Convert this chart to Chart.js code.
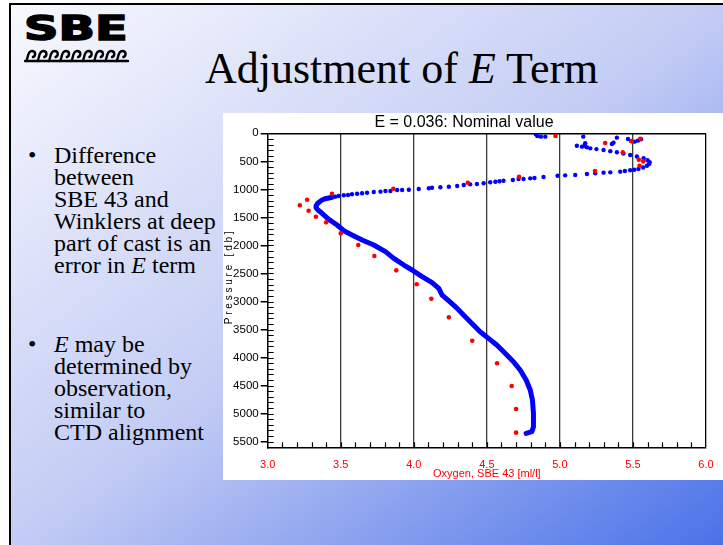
<!DOCTYPE html>
<html>
<head>
<meta charset="utf-8">
<title>Adjustment of E Term</title>
<script src="https://cdn.jsdelivr.net/npm/chart.js@4.4.1/dist/chart.umd.min.js"></script>
<style>
  html, body { margin: 0; padding: 0; width: 723px; height: 545px; overflow: hidden; background: #fff; }
  #slide {
    position: absolute; left: 9px; top: 3px; width: 714px; height: 542px;
    box-sizing: border-box; border-left: 2px solid #000; border-top: 2px solid #000;
    background: linear-gradient(to bottom right, #f8f9fe 0%, #c3ccf4 50%, #4a72e8 100%);
  }
  #logo-text {
    position: absolute; left: 24px; top: 12px; margin: 0;
    font: bold 33px/1 "DejaVu Sans", sans-serif; color: #000;
    -webkit-text-stroke: 1.5px #000;
    transform: scaleX(1.45); transform-origin: left top;
  }
  #logo-waves { position: absolute; left: 24px; top: 47px; }
  #heading {
    position: absolute; left: 205px; top: 47px; margin: 0; white-space: nowrap;
    font: 44px/1 "Liberation Serif", "Times New Roman", serif; color: #000; font-weight: normal;
  }
  .bullets {
    position: absolute; left: 54px; margin: 0; padding: 0; list-style: none;
    font: 24px/21.9px "Liberation Serif", "Times New Roman", serif; color: #000;
  }
  .bullets li { position: relative; }
  .bullets li::before { content: "\2022"; position: absolute; left: -26px; top: 0; }
  #plot-card { position: absolute; left: 223px; top: 113px; width: 500px; height: 367px; background: #fff; }
  #chart { position: absolute; left: 222px; top: 113px; }
</style>
</head>
<body>
<div id="slide"></div>

<div id="logo-text">SBE</div>
<svg id="logo-waves" width="106" height="17" viewBox="0 0 106 17">
  <g fill="none" stroke="#000" stroke-width="2.4" stroke-linecap="round">
    <path d="M1 14 H104"/>
    <path d="M2 14 C4 13 3 4 8 4 C12 4 12 9 9 10"/>
    <path d="M13.3 14 C15.3 13 14.3 4 19.3 4 C23.3 4 23.3 9 20.3 10"/>
    <path d="M24.6 14 C26.6 13 25.6 4 30.6 4 C34.6 4 34.6 9 31.6 10"/>
    <path d="M35.9 14 C37.9 13 36.9 4 41.9 4 C45.9 4 45.9 9 42.9 10"/>
    <path d="M47.2 14 C49.2 13 48.2 4 53.2 4 C57.2 4 57.2 9 54.2 10"/>
    <path d="M58.5 14 C60.5 13 59.5 4 64.5 4 C68.5 4 68.5 9 65.5 10"/>
    <path d="M69.8 14 C71.8 13 70.8 4 75.8 4 C79.8 4 79.8 9 76.8 10"/>
    <path d="M81.1 14 C83.1 13 82.1 4 87.1 4 C91.1 4 91.1 9 88.1 10"/>
    <path d="M92.4 14 C94.4 13 93.4 4 98.4 4 C102.4 4 102.4 9 99.4 10"/>
  </g>
</svg>

<h1 id="heading">Adjustment of <i>E</i> Term</h1>

<ul class="bullets" style="top:145px">
  <li>Difference<br>between<br>SBE 43 and<br>Winklers at deep<br>part of cast is an<br>error in <i>E</i> term</li>
</ul>
<ul class="bullets" style="top:334px">
  <li><i>E</i> may be<br>determined by<br>observation,<br>similar to<br>CTD alignment</li>
</ul>

<div id="plot-card"></div>
<canvas id="chart" width="529" height="366"></canvas>

<script>
// Axis ticks
const oxygenTicks = [3.0, 3.5, 4.0, 4.5, 5.0, 5.5, 6.0];
const pressureTicks = [0, 500, 1000, 1500, 2000, 2500, 3000, 3500, 4000, 4500, 5000, 5500];

// Winkler bottle samples: oxygen [ml/l] and pressure [db]
const winklerOxygen = [4.97, 5.55, 5.49, 5.31, 5.43, 5.54, 5.57, 5.545, 5.24, 4.72, 4.37, 3.86, 3.44, 3.27,
  3.22, 3.28, 3.33, 3.40, 3.50, 3.62, 3.73, 3.88, 4.02, 4.12, 4.24, 4.40, 4.57, 4.67, 4.70, 4.70];
const winklerPressure = [48, 96, 143, 173, 339, 470, 500, 578, 672, 774, 881, 988, 1077, 1184,
  1284, 1380, 1487, 1588, 1784, 1992, 2188, 2444, 2693, 2950, 3282, 3699, 4102, 4507, 4917, 5339];

// SBE 43 profile, upper water column (sparse scans)
const ctdUpperOxygen = [4.835, 4.845, 4.87, 4.90, 5.16, 5.39, 5.367, 5.356, 5.466, 5.488, 5.511, 5.534, 5.555,
  5.116, 5.173, 5.168, 5.151, 5.185,
  5.208, 5.25, 5.299, 5.345, 5.39, 5.435, 5.481, 5.527, 5.573, 5.60, 5.614, 5.61, 5.596, 5.57, 5.538,
  5.51, 5.481, 5.445, 5.413, 5.345, 5.299, 5.242, 5.185, 5.105, 5.036, 4.984, 4.888, 4.826, 4.797,
  4.751, 4.717, 4.678, 4.614, 4.586, 4.558, 4.523, 4.478, 4.432, 4.386, 4.342, 4.297, 4.24, 4.182,
  4.125, 4.103, 4.034, 3.966, 3.92, 3.886, 3.84, 3.806, 3.772, 3.726, 3.68, 3.646, 3.612, 3.577,
  3.55, 3.521, 3.486, 3.463];
const ctdUpperPressure = [18, 48, 60, 60, 60, 78, 167, 191, 101, 137, 149, 131, 107,
  221, 178, 226, 238, 250,
  268, 282, 298, 318, 339, 362, 387, 415, 446, 480, 517, 550, 578, 610, 637,
  650, 660, 672, 684, 696, 702, 714, 726, 744, 750, 756, 780, 797, 803,
  815, 815, 833, 845, 856, 863, 874, 892, 904, 910, 922, 940, 952, 963,
  970, 981, 993, 1006, 1011, 1011, 1029, 1029, 1041, 1047, 1059, 1070, 1077, 1088,
  1100, 1106, 1118, 1130];

// SBE 43 profile, deep water column (dense scans)
const ctdDeepOxygen = [3.441, 3.418, 3.395, 3.372, 3.356, 3.342, 3.333, 3.331, 3.344, 3.372, 3.418, 3.475,
  3.521, 3.577, 3.646, 3.726, 3.806, 3.863, 3.932, 3.988, 4.057, 4.125, 4.171, 4.194, 4.24, 4.297,
  4.34, 4.386, 4.454, 4.511, 4.568, 4.625, 4.682, 4.728, 4.769, 4.797, 4.812, 4.819, 4.819, 4.808, 4.769];
const ctdDeepPressure = [1141, 1154, 1166, 1189, 1220, 1248, 1291, 1327, 1368, 1427, 1534, 1635,
  1737, 1814, 1903, 1992, 2111, 2230, 2349, 2438, 2557, 2664, 2765, 2884, 2990, 3122,
  3240, 3360, 3538, 3657, 3776, 3924, 4074, 4222, 4400, 4579, 4757, 4994, 5232, 5322, 5351];

const toPoints = (xs, ys) => xs.map((x, i) => ({ x: x, y: ys[i] }));

const FONT = "'Liberation Sans', Arial, sans-serif";

// Inner minor tick marks along the bottom and left axes
const minorTicks = {
  id: 'minorTicks',
  afterDraw(chart) {
    const { ctx, chartArea, scales } = chart;
    const xs = scales.x, ys = scales.y;
    ctx.save();
    ctx.strokeStyle = '#000';
    ctx.lineWidth = 1.2;
    ctx.beginPath();
    for (let i = 1; i < 30; i++) {
      const px = Math.round(xs.getPixelForValue(3 + i * 0.1)) + 0.5;
      ctx.moveTo(px, chartArea.bottom);
      ctx.lineTo(px, chartArea.bottom - 5);
    }
    for (let i = 1; i < 56; i++) {
      const py = Math.round(ys.getPixelForValue(i * 100)) + 0.5;
      ctx.moveTo(chartArea.left, py);
      ctx.lineTo(chartArea.left + 6, py);
    }
    ctx.stroke();
    ctx.restore();
  }
};

new Chart(document.getElementById('chart'), {
  type: 'scatter',
  data: {
    datasets: [
      {
        label: 'Winkler',
        data: toPoints(winklerOxygen, winklerPressure),
        backgroundColor: '#ff0000',
        borderWidth: 0,
        pointRadius: 2.3
      },
      {
        label: 'SBE 43 upper',
        data: toPoints(ctdUpperOxygen, ctdUpperPressure),
        backgroundColor: '#0000ff',
        borderWidth: 0,
        pointRadius: 2.2
      },
      {
        label: 'SBE 43 deep',
        data: toPoints(ctdDeepOxygen, ctdDeepPressure),
        showLine: true,
        borderColor: '#0000ff',
        borderWidth: 5,
        borderCapStyle: 'round',
        borderJoinStyle: 'round',
        pointRadius: 0,
        tension: 0
      }
    ]
  },
  options: {
    responsive: false,
    animation: false,
    devicePixelRatio: 1,
    layout: { padding: { left: 0, right: 45, top: 0, bottom: 0 } },
    plugins: {
      legend: { display: false },
      tooltip: { enabled: false },
      title: {
        display: true,
        text: 'E = 0.036: Nominal value',
        color: '#000',
        font: { family: FONT, size: 16, weight: 'normal', lineHeight: 1.2 },
        padding: { top: 0, bottom: 1.1 }
      }
    },
    scales: {
      x: {
        type: 'linear',
        min: 3, max: 6,
        afterBuildTicks: s => { s.ticks = oxygenTicks.map(v => ({ value: v })); },
        afterFit: s => { s.height = 31.7; },
        ticks: {
          color: '#ff0000',
          padding: 11,
          maxRotation: 0,
          font: { family: FONT, size: 11 },
          callback: v => Number(v).toFixed(1)
        },
        grid: {
          drawTicks: false,
          lineWidth: 1.3,
          color: c => (c.tick && c.tick.value === 6) ? '#000' : (c.tick && c.tick.value === 3 ? 'rgba(0,0,0,0)' : '#3a3a3a')
        },
        border: { display: true, color: '#000', width: 1.5 },
        title: {
          display: true,
          text: 'Oxygen, SBE 43 [ml/l]',
          color: '#ff0000',
          font: { family: FONT, size: 11, lineHeight: 1 },
          padding: 0
        }
      },
      y: {
        type: 'linear',
        reverse: true,
        min: 0, max: 5600,
        afterBuildTicks: s => { s.ticks = pressureTicks.map(v => ({ value: v })); },
        afterFit: s => { s.width = 45.7; },
        ticks: {
          color: '#000',
          padding: 2,
          font: { family: FONT, size: 11.5 },
          callback: v => String(v)
        },
        grid: {
          drawOnChartArea: true,
          drawTicks: true,
          tickLength: 7,
          tickColor: '#000',
          lineWidth: 1.5,
          color: c => (c.tick && c.tick.value === 0) ? '#000' : 'rgba(0,0,0,0)'
        },
        border: { display: true, color: '#000', width: 1.5 },
        title: {
          display: true,
          text: '         P r e s s u r e   [ d b ]',
          color: '#000',
          font: { family: FONT, size: 10, lineHeight: 1.2 },
          padding: { top: 1.5, bottom: 0 }
        }
      }
    }
  },
  plugins: [minorTicks]
});
</script>
</body>
</html>
